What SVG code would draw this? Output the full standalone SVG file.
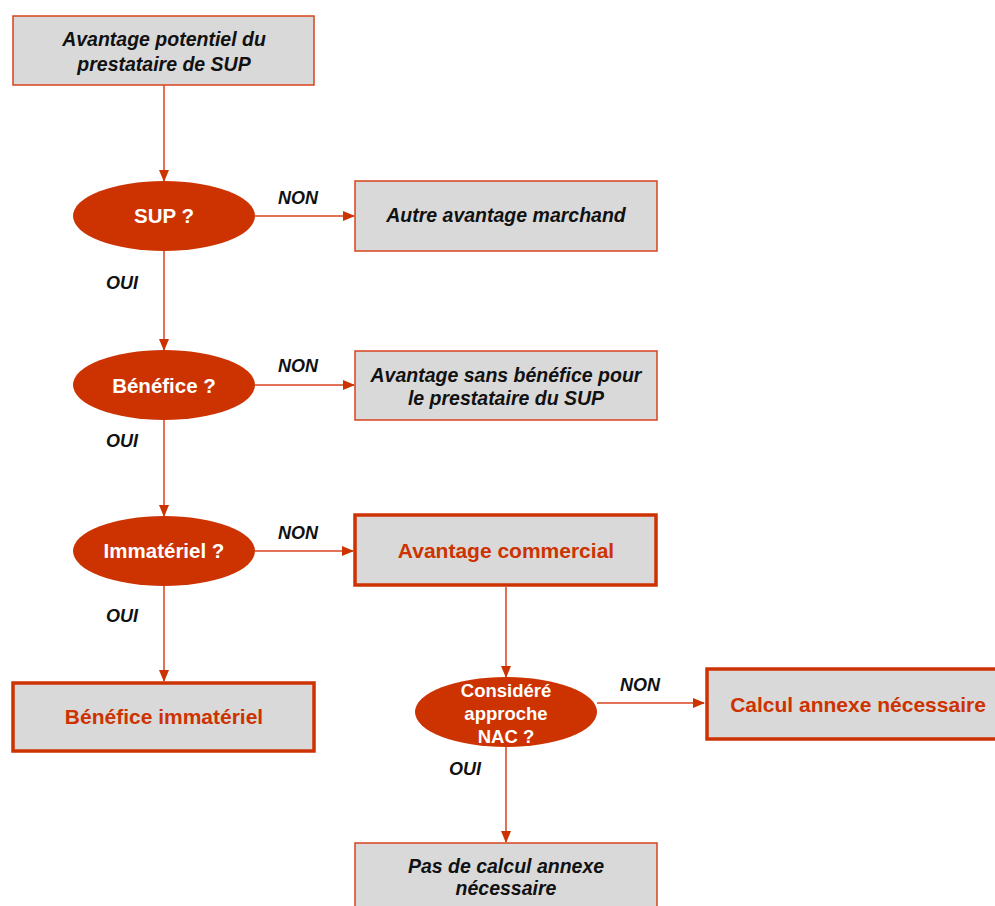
<svg xmlns="http://www.w3.org/2000/svg" width="995" height="906" viewBox="0 0 995 906">
  <style>
    .box { fill: #d9d9d9; stroke: #d8431c; stroke-width: 1.5; }
    .box-strong { fill: #d9d9d9; stroke: #cc3300; stroke-width: 3.5; }
    .decision { fill: #cc3300; }
    .t { font-family: "Liberation Sans", Arial, sans-serif; font-weight: bold; text-anchor: middle; }
    .it { font-style: italic; font-size: 19.5px; fill: #111; }
    .dec { font-size: 20.5px; fill: #ffffff; }
    .dec-sm { font-size: 18.5px; fill: #ffffff; }
    .res { font-size: 21px; fill: #cc3300; }
    .lbl { font-style: italic; font-size: 18px; fill: #111; }
    .edge { fill: none; stroke: #d8431c; stroke-width: 1.5; }
  </style>
  <defs>
    <marker id="arrow" markerWidth="12" markerHeight="12" refX="11" refY="6" orient="auto" markerUnits="userSpaceOnUse">
      <path d="M0,1 L12,6 L0,11 Z" fill="#cc3300"/>
    </marker>
  </defs>

  <!-- connectors -->
  <g id="connectors">
    <line class="edge" x1="164" y1="85" x2="164" y2="181" marker-end="url(#arrow)"/>
    <line class="edge" x1="255" y1="216" x2="354" y2="216" marker-end="url(#arrow)"/>
    <line class="edge" x1="164" y1="251" x2="164" y2="350" marker-end="url(#arrow)"/>
    <line class="edge" x1="255" y1="385" x2="354" y2="385" marker-end="url(#arrow)"/>
    <line class="edge" x1="164" y1="420" x2="164" y2="516" marker-end="url(#arrow)"/>
    <line class="edge" x1="255" y1="551" x2="353" y2="551" marker-end="url(#arrow)"/>
    <line class="edge" x1="164" y1="586" x2="164" y2="681" marker-end="url(#arrow)"/>
    <line class="edge" x1="506" y1="587" x2="506" y2="677" marker-end="url(#arrow)"/>
    <line class="edge" x1="597" y1="703" x2="704" y2="703" marker-end="url(#arrow)"/>
    <line class="edge" x1="506" y1="747" x2="506" y2="842" marker-end="url(#arrow)"/>

    <text class="t lbl" x="298" y="204">NON</text>
    <text class="t lbl" x="122" y="289">OUI</text>
    <text class="t lbl" x="298" y="372">NON</text>
    <text class="t lbl" x="122" y="447">OUI</text>
    <text class="t lbl" x="298" y="539">NON</text>
    <text class="t lbl" x="122" y="622">OUI</text>
    <text class="t lbl" x="640" y="691">NON</text>
    <text class="t lbl" x="465" y="775">OUI</text>
  </g>

  <g id="start">
    <rect class="box" x="13" y="16" width="301" height="69"/>
    <text class="t it" x="164" y="46">Avantage potentiel du</text>
    <text class="t it" x="164" y="71">prestataire de SUP</text>
  </g>

  <g id="q-sup">
    <ellipse class="decision" cx="164" cy="216" rx="91" ry="35"/>
    <text class="t dec" x="164" y="223">SUP ?</text>
  </g>

  <g id="autre-avantage">
    <rect class="box" x="355" y="181" width="302" height="70"/>
    <text class="t it" x="506" y="222">Autre avantage marchand</text>
  </g>

  <g id="q-benefice">
    <ellipse class="decision" cx="164" cy="385" rx="91" ry="35"/>
    <text class="t dec" x="164" y="393">Bénéfice ?</text>
  </g>

  <g id="sans-benefice">
    <rect class="box" x="355" y="351" width="302" height="69"/>
    <text class="t it" x="506" y="382">Avantage sans bénéfice pour</text>
    <text class="t it" x="506" y="405">le prestataire du SUP</text>
  </g>

  <g id="q-immateriel">
    <ellipse class="decision" cx="164" cy="551" rx="91" ry="35"/>
    <text class="t dec" x="164" y="558">Immatériel ?</text>
  </g>

  <g id="avantage-commercial">
    <rect class="box-strong" x="355" y="515" width="301" height="70"/>
    <text class="t res" x="506" y="558">Avantage commercial</text>
  </g>

  <g id="benefice-immateriel">
    <rect class="box-strong" x="13" y="683" width="301" height="68"/>
    <text class="t res" x="164" y="724">Bénéfice immatériel</text>
  </g>

  <g id="q-nac">
    <ellipse class="decision" cx="506" cy="712" rx="91" ry="35"/>
    <text class="t dec-sm" x="506" y="697">Considéré</text>
    <text class="t dec-sm" x="506" y="720">approche</text>
    <text class="t dec-sm" x="506" y="743">NAC ?</text>
  </g>

  <g id="calcul-annexe">
    <rect class="box-strong" x="707" y="669" width="302" height="70"/>
    <text class="t res" x="858" y="712">Calcul annexe nécessaire</text>
  </g>

  <g id="pas-de-calcul">
    <rect class="box" x="355" y="843" width="302" height="70"/>
    <text class="t it" x="506" y="873">Pas de calcul annexe</text>
    <text class="t it" x="506" y="895">nécessaire</text>
  </g>
</svg>
